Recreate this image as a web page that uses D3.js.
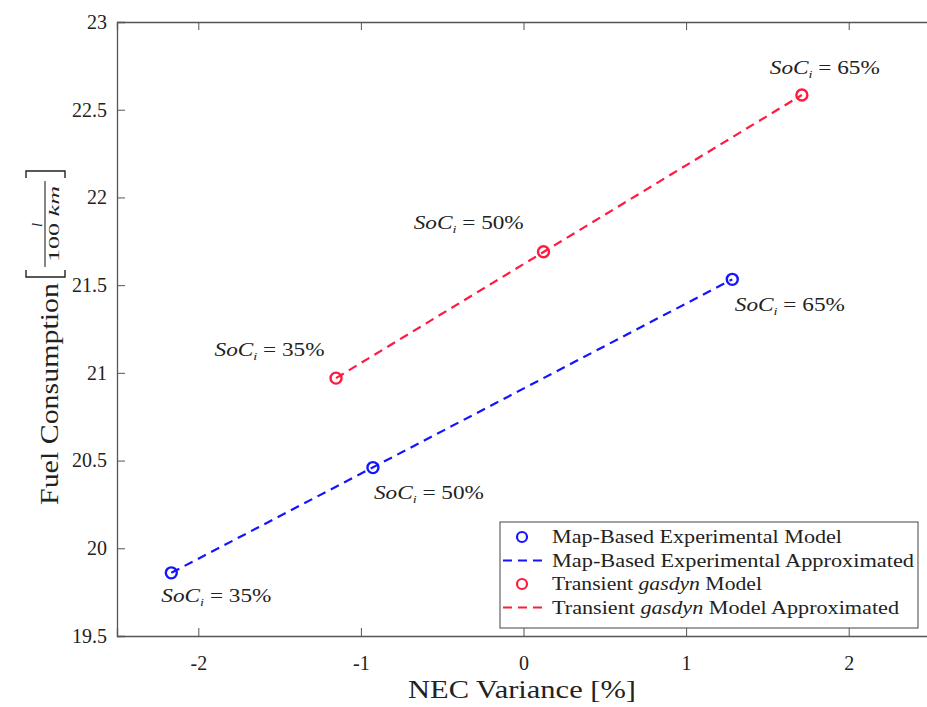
<!DOCTYPE html>
<html><head><meta charset="utf-8">
<script src="https://cdn.jsdelivr.net/npm/d3@7"></script>
<style>body{margin:0;background:#fff}svg{display:block}text{font-family:"Liberation Serif","DejaVu Serif",serif;fill:#222}</style>
</head><body><svg id="c" width="927" height="707"></svg>
<script>
// ---- data ----
const xTicks = [-2, -1, 0, 1, 2];
const yTicks = [19.5, 20, 20.5, 21, 21.5, 22, 22.5, 23];
const xDomain = [-2.5, 2.5];
const yDomain = [19.5, 23];
const mapBasedX = [-2.166, -0.926, 1.284];
const mapBasedY = [19.86, 20.46, 21.533];
const gasdynX = [-1.153, 0.123, 1.712];
const gasdynY = [20.97, 21.69, 22.584];
const socLabels = ["35%", "50%", "65%"];
// annotation anchor points (data coordinates, left edge / vertical middle)
const mapBasedLabelX = [-2.227, -0.92, 1.30];
const mapBasedLabelY = [19.73, 20.315, 21.387];
const gasdynLabelX = [-1.90, -0.675, 1.515];
const gasdynLabelY = [21.13, 21.854, 22.738];
const legendItems = [
  {series: "map", kind: "marker", len: 290, parts: [["Map-Based Experimental Model", false]]},
  {series: "map", kind: "line", len: 362, parts: [["Map-Based Experimental Approximated", false]]},
  {series: "gas", kind: "marker", len: 210, parts: [["Transient ", false], ["gasdyn", true], [" Model", false]]},
  {series: "gas", kind: "line", len: 347, parts: [["Transient ", false], ["gasdyn", true], [" Model Approximated", false]]}
];

// ---- layout ----
const m = {left: 117, top: 22, right: 930, bottom: 636};
const blue = "#1414ff", red = "#ff1a40";
const serif = '"Liberation Serif","DejaVu Serif",serif';
const svg = d3.select("#c");
const x = d3.scaleLinear().domain(xDomain).range([m.left, m.right]);
const y = d3.scaleLinear().domain(yDomain).range([m.bottom, m.top]);

const axCol = "#555";
const gx = svg.append("g").attr("transform", `translate(0,${m.bottom})`)
  .call(d3.axisBottom(x).tickValues(xTicks).tickSize(-8).tickPadding(20).tickFormat(d => String(d)));
const gxt = svg.append("g").attr("transform", `translate(0,${m.top})`)
  .call(d3.axisTop(x).tickValues(xTicks).tickSize(-8).tickFormat(""));
const gy = svg.append("g").attr("transform", `translate(${m.left},0)`)
  .call(d3.axisLeft(y).tickValues(yTicks).tickSize(-8).tickPadding(10).tickFormat(d => String(d)));
[gx, gxt, gy].forEach(g => {
  g.attr("font-family", serif).attr("font-size", 20);
  g.select(".domain").attr("stroke", axCol).attr("stroke-width", 1.3);
  g.selectAll(".tick line").attr("stroke", axCol).attr("stroke-width", 1);
  g.selectAll(".tick text").attr("fill", "#222").attr("font-family", serif).attr("font-size", 20);
});
gy.selectAll(".tick line").filter(d => d === 23 || d === 19.5).remove();

// axis labels
svg.append("text").attr("x", 522).attr("y", 698).attr("text-anchor", "middle")
  .style("font-size", "26px").attr("textLength", 228).attr("lengthAdjust", "spacingAndGlyphs").text("NEC Variance [%]");
const yl = svg.append("g").attr("transform", "translate(58,505) rotate(-90)");
yl.append("text").attr("x", 0).attr("y", 0).style("font-size", "26px")
  .attr("textLength", 222).attr("lengthAdjust", "spacingAndGlyphs").text("Fuel Consumption");
// bracket fraction [ l / 100 km ]
const fx = 228;
yl.append("path").attr("d", `M${fx+7},-32 L${fx},-32 L${fx},7 L${fx+7},7`).attr("fill", "none").attr("stroke", "#222").attr("stroke-width", 1.4);
yl.append("text").attr("x", fx + 52).attr("y", -16).attr("text-anchor", "middle").style("font-size", "15px").style("font-style", "italic").text("l");
yl.append("line").attr("x1", fx + 10).attr("x2", fx + 96).attr("y1", -13).attr("y2", -13).attr("stroke", "#222").attr("stroke-width", 1.1);
const fr = yl.append("text").attr("x", fx + 15).attr("y", 1).style("font-size", "15px")
  .attr("textLength", 76).attr("lengthAdjust", "spacingAndGlyphs");
fr.append("tspan").text("100 ");
fr.append("tspan").style("font-style", "italic").text("km");
yl.append("path").attr("d", `M${fx+99},-32 L${fx+106},-32 L${fx+106},7 L${fx+99},7`).attr("fill", "none").attr("stroke", "#222").attr("stroke-width", 1.4);

// series
const line = d3.line().x(d => x(d[0])).y(d => y(d[1]));
function drawSeries(xs, ys, col) {
  const pts = xs.map((v, i) => [v, ys[i]]);
  svg.append("path").datum([pts[0], pts[pts.length - 1]]).attr("d", line)
    .attr("fill", "none").attr("stroke", col).attr("stroke-width", 2.2).attr("stroke-dasharray", "9,6");
  svg.selectAll(null).data(pts).enter().append("circle")
    .attr("cx", d => x(d[0])).attr("cy", d => y(d[1])).attr("r", 5.5)
    .attr("fill", "none").attr("stroke", col).attr("stroke-width", 2.4);
}
drawSeries(mapBasedX, mapBasedY, blue);
drawSeries(gasdynX, gasdynY, red);

// annotations
function soc(xv, yv, lab) {
  const t = svg.append("text").attr("x", x(xv)).attr("y", y(yv)).attr("dy", "0.35em").style("font-size", "18px")
    .attr("textLength", 110).attr("lengthAdjust", "spacingAndGlyphs");
  t.append("tspan").style("font-style", "italic").text("SoC");
  t.append("tspan").style("font-style", "italic").style("font-size", "11px").attr("dy", "4").text("i");
  t.append("tspan").attr("dy", "-4").text(" = " + lab);
}
socLabels.forEach((lab, i) => soc(mapBasedLabelX[i], mapBasedLabelY[i], lab));
socLabels.forEach((lab, i) => soc(gasdynLabelX[i], gasdynLabelY[i], lab));

// legend
const lg = svg.append("g").attr("transform", "translate(500,522)");
lg.append("rect").attr("width", 418).attr("height", 106).attr("fill", "#fff").attr("stroke", "#555").attr("stroke-width", 1.1);
legendItems.forEach((it, i) => {
  const cy = 15 + i * 23.5;
  const col = it.series === "map" ? blue : red;
  if (it.kind === "marker") {
    lg.append("circle").attr("cx", 22).attr("cy", cy).attr("r", 5).attr("fill", "none").attr("stroke", col).attr("stroke-width", 2.2);
  } else {
    lg.append("line").attr("x1", 3).attr("x2", 44).attr("y1", cy).attr("y2", cy).attr("stroke", col).attr("stroke-width", 2.2).attr("stroke-dasharray", "9,6");
  }
  const t = lg.append("text").attr("x", 52).attr("y", cy).attr("dy", "0.35em").style("font-size", "18px")
    .attr("textLength", it.len).attr("lengthAdjust", "spacingAndGlyphs");
  it.parts.forEach(p => t.append("tspan").style("font-style", p[1] ? "italic" : "normal").text(p[0]));
});
</script></body></html>
